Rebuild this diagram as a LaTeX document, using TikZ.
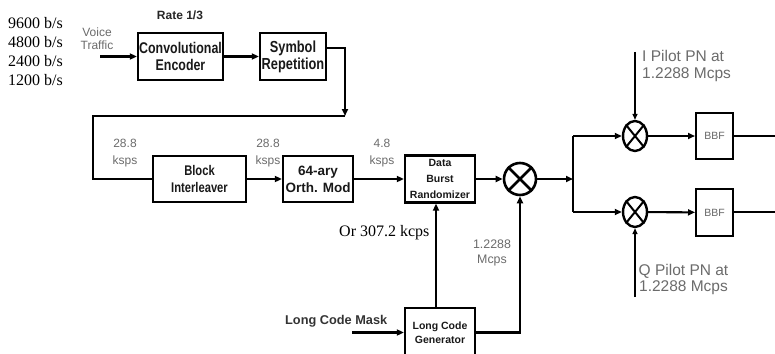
\documentclass[tikz,border=0pt]{standalone}
\usepackage{fontspec}
\setmainfont{Liberation Serif}
\newfontfamily\sansf{Liberation Sans}
\newfontfamily\nsansf[FakeStretch=0.8]{Liberation Sans}
\usetikzlibrary{arrows.meta,shapes.geometric}
\begin{document}
\begin{tikzpicture}[x=1pt,y=-1pt,
  blk/.style={draw, line width=2.3pt, inner sep=0pt, align=center, text=black!90},
  ln/.style={line width=2.1pt},
  arr/.style={ln, -{Triangle[length=7pt,width=6pt]}},
  tarr/.style={line width=1.4pt, -{Triangle[length=6pt,width=5pt]}},
  glbl/.style={text=black!58, align=center, inner sep=0pt},
  mixer/.style={draw, ellipse, line width=2.4pt, minimum width=24pt, minimum height=30pt, inner sep=0pt}
]
\useasboundingbox (0,0) rectangle (775,353);
\clip (0,0) rectangle (775,353);

% rates
\node[anchor=north west, align=left, inner sep=0pt, font=\fontsize{16}{19.1}\selectfont] (rates) at (8,17)
  {9600 b/s\\4800 b/s\\2400 b/s\\1200 b/s};
\node[inner sep=0pt, text=black!85, font=\sansf\bfseries\fontsize{12}{14}\selectfont] (rate) at (180,15) {Rate 1/3};
\node[glbl, font=\sansf\fontsize{12}{13}\selectfont] (voice) at (97,38.5) {Voice\\Traffic};

% blocks
\node[blk, minimum width=85pt, minimum height=47pt, font=\nsansf\bfseries\fontsize{15.5}{16.5}\selectfont] (conv) at (180.5,56.5) {Convolutional\\Encoder};
\node[blk, minimum width=66pt, minimum height=47pt, font=\nsansf\bfseries\fontsize{16}{17}\selectfont] (symrep) at (293,56.5) {Symbol\\Repetition};
\node[blk, minimum width=93pt, minimum height=46pt, font=\nsansf\bfseries\fontsize{14}{17}\selectfont] (block) at (199.5,179) {Block\\Interleaver};
\node[blk, minimum width=70pt, minimum height=46pt, font=\sansf\bfseries\fontsize{13.5}{17}\selectfont] (orth) at (318,179) {64-ary\\Orth. Mod};
\node[blk, minimum width=70pt, minimum height=47pt, font=\sansf\bfseries\fontsize{10.5}{16}\selectfont] (dbr) at (440,179) {Data\\Burst\\Randomizer};
\node[draw, circle, line width=2.6pt, minimum size=32pt, inner sep=0pt] (mult) at (520,179) {};
\draw[line width=2.6pt] (mult.north east) -- (mult.south west) (mult.north west) -- (mult.south east);
\node[blk, minimum width=70pt, minimum height=49pt, font=\sansf\bfseries\fontsize{10.5}{13.5}\selectfont] (lcg) at (440,332.5) {Long Code\\Generator};

\node[mixer] (imix) at (635,136) {};
\node[mixer] (qmix) at (635,212) {};
\draw[line width=2pt] (imix.north east) -- (imix.south west) (imix.north west) -- (imix.south east);
\draw[line width=2pt] (qmix.north east) -- (qmix.south west) (qmix.north west) -- (qmix.south east);
\node[blk, line width=2pt, minimum width=37pt, minimum height=46pt, text=black!60, font=\sansf\fontsize{10.5}{12}\selectfont] (bbfa) at (714.5,136) {BBF};
\node[blk, line width=2pt, minimum width=37pt, minimum height=47pt, text=black!60, font=\sansf\fontsize{10.5}{12}\selectfont] (bbfb) at (714.5,212.5) {BBF};

% labels
\node[glbl, font=\sansf\fontsize{12}{17}\selectfont] (r1) at (125,153.5) {28.8\\ksps};
\node[glbl, font=\sansf\fontsize{12}{17}\selectfont] (r2) at (268,153.5) {28.8\\ksps};
\node[glbl, font=\sansf\fontsize{12}{17}\selectfont] (r3) at (382,153.5) {4.8\\ksps};
\node[glbl, font=\sansf\fontsize{12.4}{15}\selectfont] (r4) at (492,252.5) {1.2288\\Mcps};
\node[inner sep=0pt, anchor=west, font=\fontsize{16}{19}\selectfont] (or) at (339,233) {Or 307.2 kcps};
\node[inner sep=0pt, anchor=west, text=black!80, font=\sansf\bfseries\fontsize{12.75}{14}\selectfont] (lcm) at (285,321) {Long Code Mask};
\node[glbl, anchor=west, align=left, font=\sansf\fontsize{15.5}{16.5}\selectfont] (ipl) at (642,66) {I Pilot PN at\\1.2288 Mcps};
\node[glbl, font=\sansf\fontsize{15.5}{16.5}\selectfont] (qpl) at (683.5,279.5) {Q Pilot PN at\\1.2288 Mcps};

% coordinates
\coordinate (vin) at (100,56.5);
\coordinate (cA) at (345,116);
\coordinate (cB) at (93,116);
\coordinate (junc) at (573,179);
\coordinate (jtop) at (573,136);
\coordinate (jbot) at (573,212);
\coordinate (iend) at (775,136);
\coordinate (qend) at (775,212);
\coordinate (ipn) at (635,52);
\coordinate (qpn) at (635,297);
\coordinate (lcmin) at (352,332.5);

% connectors
\draw[arr] (vin) -- (conv.west);
\draw[arr] (conv) -- (symrep);
\draw[arr] ([yshift=8.5pt]symrep.east) -| (cA);
\draw[ln] (cA) -- (cB) |- (block.west);
\draw[arr] (block) -- (orth);
\draw[arr] (orth) -- (dbr);
\draw[arr] (dbr) -- (mult);
\draw[arr] (mult) -- (junc);
\draw[ln] (jtop) -- (jbot);
\draw[arr] (jtop) -- (imix);
\draw[arr] (jbot) -- (qmix);
\draw[arr] (imix) -- (bbfa);
\draw[arr] (qmix) -- (bbfb);
\draw[ln] (bbfa) -- (iend);
\draw[ln] (bbfb.east |- qend) -- (qend);
\draw[tarr] (ipn) -- (imix);
\draw[tarr] (qpn) -- (qmix);
\draw[arr] ([xshift=-4pt]lcg.north) -- ([xshift=-4pt]dbr.south);
\draw[arr] (lcg.east) -| (mult.south);
\draw[arr] (lcmin) -- (lcg.west);
\end{tikzpicture}
\end{document}
